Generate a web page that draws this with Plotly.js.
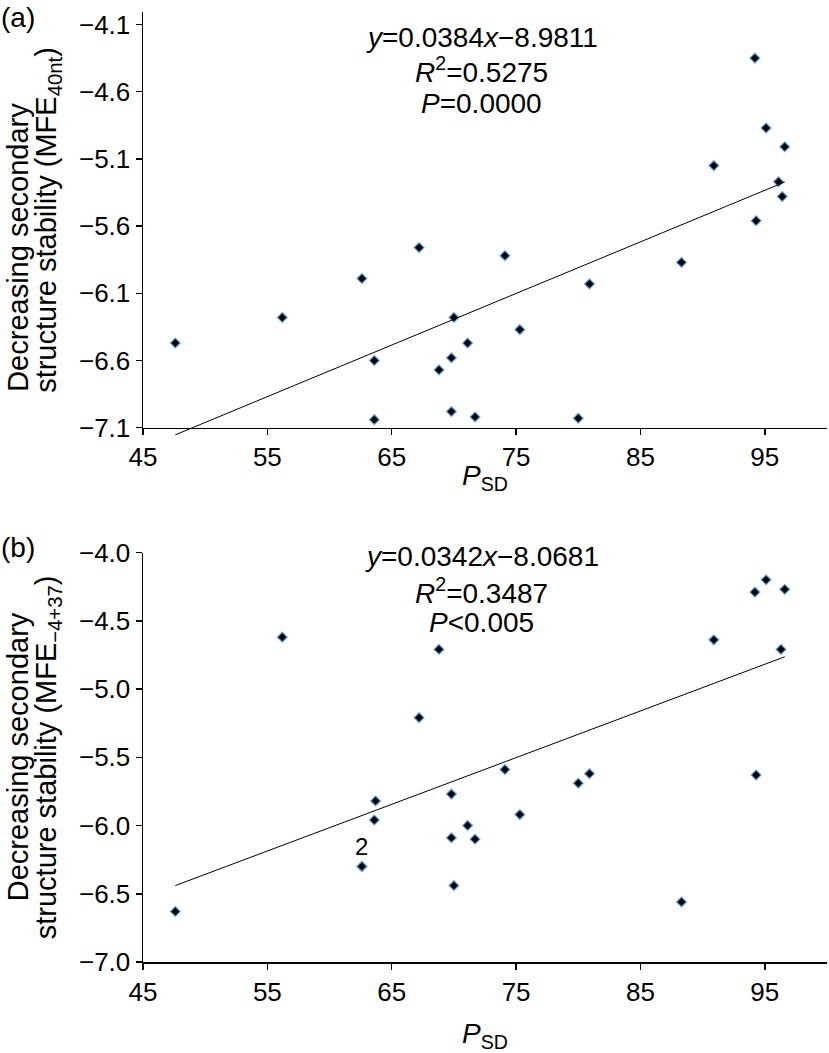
<!DOCTYPE html>
<html>
<head>
<meta charset="utf-8">
<script src="https://cdn.plot.ly/plotly-3.0.1.min.js"></script>
<style>html,body{margin:0;padding:0;background:#fff;}#chart{width:829px;height:1053px;}</style>
</head>
<body>
<div id="chart"></div>
<script>
// ---- Data ----
// Panel (a): P_SD vs MFE_40nt
const psdA = [47.6, 56.2, 62.6, 63.6, 63.6, 67.2, 68.8, 69.8, 69.8, 70.0, 71.1, 71.7, 74.1, 75.3, 80.0, 80.9, 88.3, 90.9, 94.2, 94.3, 95.1, 96.1, 96.4, 96.6];
const mfeA = [-6.47, -6.28, -5.99, -6.60, -7.04, -5.76, -6.67, -6.58, -6.98, -6.28, -6.47, -7.02, -5.82, -6.37, -7.03, -6.03, -5.87, -5.15, -4.35, -5.56, -4.87, -5.27, -5.38, -5.01];
// Panel (b): P_SD vs MFE_-4+37 (two coincident points at 62.6)
const psdB = [47.6, 56.2, 62.6, 62.6, 63.6, 63.7, 67.2, 68.8, 69.8, 69.8, 70.0, 71.1, 71.7, 74.1, 75.3, 80.0, 80.9, 88.3, 90.9, 94.2, 94.3, 95.1, 96.3, 96.6];
const mfeB = [-6.63, -4.62, -6.30, -6.30, -5.96, -5.82, -5.21, -4.71, -5.77, -6.09, -6.44, -6.00, -6.10, -5.59, -5.92, -5.69, -5.62, -6.56, -4.64, -4.29, -5.63, -4.20, -4.71, -4.27];
// Fitted regression lines (end points)
const fitAx = [47.6, 96.6];
const fitAy = [-7.153, -5.272];
const fitBx = [47.6, 96.6];
const fitBy = [-6.440, -4.764];
// Tick labels / texts
const xTicks = [45, 55, 65, 75, 85, 95];
const statsA = ['<i>y</i>=0.0384<i>x</i>\u22128.9811', '<i>R</i><sup>2</sup>=0.5275', '<i>P</i>=0.0000'];
const statsB = ['<i>y</i>=0.0342<i>x</i>\u22128.0681', '<i>R</i><sup>2</sup>=0.3487', '<i>P</i>&lt;0.005'];
const yTitleA = ['Decreasing secondary', 'structure stability (MFE<sub>40nt</sub>)'];
const yTitleB = ['Decreasing secondary', 'structure stability (MFE<sub>\u22124+37</sub>)'];
const xTitle = '<i>P</i><sub>SD</sub>';

// ---- Layout geometry ----
const FONT = '"Liberation Sans", Arial, Helvetica, sans-serif';
const W = 829, H = 1053;
const M = {l: 143, r: 2, t: 12, b: 91};
const plotH = H - M.t - M.b;
const yRangeA = [-7.1, -4.007];
const yRangeB = [-7.0, -4.0];
const domA = [(962 - 427.7) / plotH, 1];
const domB = [0, (962 - 552.5) / plotH];
// helper subplot for panel (a) fit line so it may run just below the x axis
const ext = 0.025;
const ppuA = (domA[1] - domA[0]) * plotH / (yRangeA[1] - yRangeA[0]);
const yRangeA3 = [yRangeA[0] - ext * plotH / ppuA, yRangeA[1]];

const mk = {symbol: 'diamond', size: 7.5, color: '#000', line: {color: 'rgba(90,160,225,0.85)', width: 1.3}};

const traces = [
  {x: fitAx, y: fitAy, xaxis: 'x3', yaxis: 'y3', mode: 'lines', line: {color: '#000', width: 1}, hoverinfo: 'skip'},
  {x: psdA, y: mfeA, xaxis: 'x', yaxis: 'y', mode: 'markers', marker: mk, cliponaxis: false},
  {x: fitBx, y: fitBy, xaxis: 'x2', yaxis: 'y2', mode: 'lines', line: {color: '#000', width: 1}, hoverinfo: 'skip'},
  {x: psdB, y: mfeB, xaxis: 'x2', yaxis: 'y2', mode: 'markers', marker: mk, cliponaxis: false}
];

function xAxis(anchor) {
  return {
    domain: [0, 1], anchor: anchor, range: [45, 100],
    tickmode: 'array', tickvals: xTicks, ticktext: xTicks.map(String),
    ticks: 'outside', ticklen: 6, tickwidth: 1.5, tickcolor: '#000',
    showline: true, linewidth: 1.5, linecolor: '#000',
    showgrid: false, zeroline: false,
    tickfont: {family: FONT, size: 26, color: '#000'}
  };
}
function yAxis(anchor, dom, rng, tick0) {
  return {
    domain: dom, anchor: anchor, range: rng,
    tickmode: 'linear', tick0: tick0, dtick: 0.5, tickformat: '.1f',
    ticks: 'outside', ticklen: 6, tickwidth: 1.5, tickcolor: '#000',
    showline: true, linewidth: 1.5, linecolor: '#000',
    showgrid: false, zeroline: false,
    tickfont: {family: FONT, size: 26, color: '#000'}
  };
}

const statFont = {family: FONT, size: 28, color: '#000'};
const titleFont = {family: FONT, size: 29, color: '#000'};
function statAnn(ax, text, shift) {
  return {xref: ax + ' domain', yref: ax.replace('x', 'y') + ' domain', x: 0.495, y: 1,
          xanchor: 'center', yanchor: 'middle', yshift: shift, text: text, showarrow: false, font: statFont};
}
function yTitleAnn(yax, text, xshift, yshift) {
  return {xref: 'paper', yref: yax + ' domain', x: 0, y: 0.5, xshift: xshift, yshift: yshift,
          xanchor: 'center', yanchor: 'middle', textangle: -90, text: text, showarrow: false, font: titleFont};
}
function xTitleAnn(xax, yshift) {
  return {xref: xax + ' domain', yref: xax.replace('x', 'y') + ' domain', x: 0.5, y: 0, yshift: yshift,
          xanchor: 'center', yanchor: 'middle', text: xTitle, showarrow: false, font: {family: FONT, size: 28, color: '#000'}};
}

const layout = {
  width: W, height: H, margin: M,
  paper_bgcolor: '#fff', plot_bgcolor: 'rgba(0,0,0,0)',
  showlegend: false,
  font: {family: FONT, color: '#000'},
  xaxis: xAxis('y'),
  yaxis: yAxis('x', domA, yRangeA, -7.1),
  xaxis2: xAxis('y2'),
  yaxis2: yAxis('x2', domB, yRangeB, -7.0),
  xaxis3: {domain: [0, 1], anchor: 'y3', range: [45, 100], visible: false, fixedrange: true},
  yaxis3: {domain: [domA[0] - ext, 1], anchor: 'x3', range: yRangeA3, visible: false, fixedrange: true},
  annotations: [
    statAnn('x', statsA[0], -25), statAnn('x', statsA[1], -58), statAnn('x', statsA[2], -91),
    statAnn('x2', statsB[0], -4), statAnn('x2', statsB[1], -38), statAnn('x2', statsB[2], -70),
    yTitleAnn('y', yTitleA[0], -125, -28), yTitleAnn('y', yTitleA[1], -95, 0),
    yTitleAnn('y2', yTitleB[0], -125, 0), yTitleAnn('y2', yTitleB[1], -95, 0),
    xTitleAnn('x', -50), xTitleAnn('x2', -73),
    {xref: 'x2', yref: 'y2', x: psdB[2], y: mfeB[2], yshift: 20, text: '2', showarrow: false,
     font: {family: FONT, size: 24, color: '#000'}},
    {xref: 'paper', yref: 'y domain', x: 0, y: 1, xshift: -144, yshift: 12, xanchor: 'left', yanchor: 'top',
     text: '(a)', showarrow: false, font: {family: FONT, size: 28, color: '#000'}},
    {xref: 'paper', yref: 'y2 domain', x: 0, y: 1, xshift: -144, yshift: 23, xanchor: 'left', yanchor: 'top',
     text: '(b)', showarrow: false, font: {family: FONT, size: 28, color: '#000'}}
  ]
};

Plotly.newPlot('chart', traces, layout, {staticPlot: true, displayModeBar: false});
</script>
</body>
</html>
